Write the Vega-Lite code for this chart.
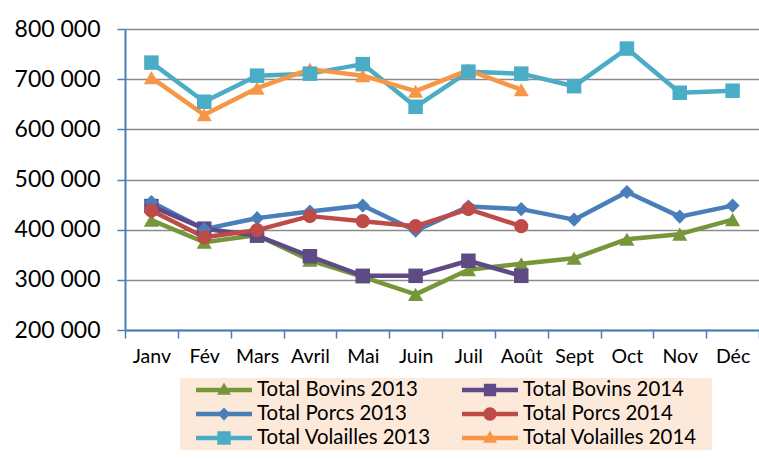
{
  "$schema": "https://vega.github.io/schema/vega-lite/v6.json",
  "width": 634,
  "height": 301,
  "autosize": {"type": "none"},
  "padding": {"left": 125, "top": 29, "right": 0, "bottom": 130},
  "background": "white",
  "config": {
    "view": {"stroke": null},
    "font": "Lato",
    "axis": {"labelFont": "Lato", "labelColor": "#000000", "title": null}
  },
  "data": {
    "values": [
      {"month": "Janv", "series": "Total Bovins 2013", "value": 419000},
      {"month": "Fév", "series": "Total Bovins 2013", "value": 375000},
      {"month": "Mars", "series": "Total Bovins 2013", "value": 389000},
      {"month": "Avril", "series": "Total Bovins 2013", "value": 339000},
      {"month": "Mai", "series": "Total Bovins 2013", "value": 306000},
      {"month": "Juin", "series": "Total Bovins 2013", "value": 271000},
      {"month": "Juil", "series": "Total Bovins 2013", "value": 320000},
      {"month": "Août", "series": "Total Bovins 2013", "value": 332000},
      {"month": "Sept", "series": "Total Bovins 2013", "value": 343000},
      {"month": "Oct", "series": "Total Bovins 2013", "value": 381000},
      {"month": "Nov", "series": "Total Bovins 2013", "value": 391000},
      {"month": "Déc", "series": "Total Bovins 2013", "value": 420000},
      {"month": "Janv", "series": "Total Porcs 2013", "value": 455000},
      {"month": "Fév", "series": "Total Porcs 2013", "value": 401000},
      {"month": "Mars", "series": "Total Porcs 2013", "value": 423000},
      {"month": "Avril", "series": "Total Porcs 2013", "value": 436000},
      {"month": "Mai", "series": "Total Porcs 2013", "value": 448000},
      {"month": "Juin", "series": "Total Porcs 2013", "value": 398000},
      {"month": "Juil", "series": "Total Porcs 2013", "value": 446000},
      {"month": "Août", "series": "Total Porcs 2013", "value": 441000},
      {"month": "Sept", "series": "Total Porcs 2013", "value": 420000},
      {"month": "Oct", "series": "Total Porcs 2013", "value": 475000},
      {"month": "Nov", "series": "Total Porcs 2013", "value": 426000},
      {"month": "Déc", "series": "Total Porcs 2013", "value": 448000},
      {"month": "Janv", "series": "Total Volailles 2013", "value": 733000},
      {"month": "Fév", "series": "Total Volailles 2013", "value": 655000},
      {"month": "Mars", "series": "Total Volailles 2013", "value": 707000},
      {"month": "Avril", "series": "Total Volailles 2013", "value": 711000},
      {"month": "Mai", "series": "Total Volailles 2013", "value": 730000},
      {"month": "Juin", "series": "Total Volailles 2013", "value": 645000},
      {"month": "Juil", "series": "Total Volailles 2013", "value": 715000},
      {"month": "Août", "series": "Total Volailles 2013", "value": 711000},
      {"month": "Sept", "series": "Total Volailles 2013", "value": 686000},
      {"month": "Oct", "series": "Total Volailles 2013", "value": 761000},
      {"month": "Nov", "series": "Total Volailles 2013", "value": 673000},
      {"month": "Déc", "series": "Total Volailles 2013", "value": 677000},
      {"month": "Janv", "series": "Total Bovins 2014", "value": 447000},
      {"month": "Fév", "series": "Total Bovins 2014", "value": 402000},
      {"month": "Mars", "series": "Total Bovins 2014", "value": 388000},
      {"month": "Avril", "series": "Total Bovins 2014", "value": 347000},
      {"month": "Mai", "series": "Total Bovins 2014", "value": 308000},
      {"month": "Juin", "series": "Total Bovins 2014", "value": 308000},
      {"month": "Juil", "series": "Total Bovins 2014", "value": 338000},
      {"month": "Août", "series": "Total Bovins 2014", "value": 308000},
      {"month": "Janv", "series": "Total Porcs 2014", "value": 438000},
      {"month": "Fév", "series": "Total Porcs 2014", "value": 385000},
      {"month": "Mars", "series": "Total Porcs 2014", "value": 399000},
      {"month": "Avril", "series": "Total Porcs 2014", "value": 427000},
      {"month": "Mai", "series": "Total Porcs 2014", "value": 417000},
      {"month": "Juin", "series": "Total Porcs 2014", "value": 407000},
      {"month": "Juil", "series": "Total Porcs 2014", "value": 441000},
      {"month": "Août", "series": "Total Porcs 2014", "value": 407000},
      {"month": "Janv", "series": "Total Volailles 2014", "value": 703000},
      {"month": "Fév", "series": "Total Volailles 2014", "value": 629000},
      {"month": "Mars", "series": "Total Volailles 2014", "value": 682000},
      {"month": "Avril", "series": "Total Volailles 2014", "value": 720000},
      {"month": "Mai", "series": "Total Volailles 2014", "value": 707000},
      {"month": "Juin", "series": "Total Volailles 2014", "value": 676000},
      {"month": "Juil", "series": "Total Volailles 2014", "value": 718000},
      {"month": "Août", "series": "Total Volailles 2014", "value": 679000}
    ]
  },
  "encoding": {
    "x": {
      "field": "month",
      "type": "ordinal",
      "sort": ["Janv", "Fév", "Mars", "Avril", "Mai", "Juin", "Juil", "Août", "Sept", "Oct", "Nov", "Déc"],
      "scale": {"type": "band", "paddingInner": 0, "paddingOuter": 0},
      "axis": {
        "labelAngle": 0,
        "labelFontSize": 19.5,
        "labelPadding": 9,
        "domainColor": "#4A7EBB",
        "domainWidth": 2,
        "tickColor": "#4A7EBB",
        "tickWidth": 1.5,
        "tickSize": 8,
        "tickBand": "extent",
        "grid": false
      }
    },
    "y": {
      "field": "value",
      "type": "quantitative",
      "scale": {"domain": [200000, 800000], "nice": false, "zero": false},
      "axis": {
        "values": [200000, 300000, 400000, 500000, 600000, 700000, 800000],
        "labelExpr": "replace(format(datum.value, ','), ',', ' ')",
        "labelFontSize": 23,
        "labelPadding": 17,
        "domainColor": "#4A7EBB",
        "domainWidth": 2,
        "tickColor": "#4A7EBB",
        "tickWidth": 1.5,
        "tickSize": 8,
        "grid": true,
        "gridColor": "#8A8A8A",
        "gridWidth": 1.3
      }
    }
  },
  "layer": [
    {
      "mark": {"type": "point", "filled": true, "size": 1, "opacity": 1},
      "encoding": {
        "color": {
          "field": "series",
          "type": "nominal",
          "scale": {
            "domain": ["Total Bovins 2013", "Total Bovins 2014", "Total Porcs 2013", "Total Porcs 2014", "Total Volailles 2013", "Total Volailles 2014"],
            "range": ["#77963C", "#5E4A85", "#4A7EBB", "#BE4B48", "#4BACC6", "#F79646"]
          },
          "legend": {
            "title": null,
            "orient": "none",
            "legendX": 55,
            "legendY": 349,
            "columns": 2,
            "direction": "horizontal",
            "fillColor": "#FCE9DA",
            "padding": 0,
            "rowPadding": 0,
            "columnPadding": 0,
            "clipHeight": 24,
            "labelFont": "Lato",
            "labelFontSize": 20.4,
            "labelColor": "#000000",
            "labelOffset": 5,
            "labelLimit": 300,
            "symbolOffset": 16,
            "symbolSize": 3136,
            "symbolOpacity": 1,
            "symbolStrokeWidth": 0,
            "labelExpr": "datum.label + '\u2800'"
          }
        },
        "shape": {
          "field": "series",
          "type": "nominal",
          "scale": {
            "domain": ["Total Bovins 2013", "Total Bovins 2014", "Total Porcs 2013", "Total Porcs 2014", "Total Volailles 2013", "Total Volailles 2014"],
            "range": [
              "M-1,-0.08H1V0.08H-1ZM0,-0.27L0.25,0.17H-0.25Z",
              "M-1,-0.08H1V0.08H-1ZM-0.22,-0.22H0.22V0.22H-0.22Z",
              "M-1,-0.08H1V0.08H-1ZM0,-0.23L0.23,0L0,0.23L-0.23,0Z",
              "M-1,-0.08H1V0.08H-1ZM-0.24,0A0.24,0.24,0,1,1,0.24,0A0.24,0.24,0,1,1,-0.24,0Z",
              "M-1,-0.08H1V0.08H-1ZM-0.24,-0.24H0.24V0.24H-0.24Z",
              "M-1,-0.08H1V0.08H-1ZM0,-0.27L0.25,0.17H-0.25Z"
            ]
          }
        }
      }
    },
    {
      "mark": {"type": "line", "strokeWidth": 4.5, "strokeJoin": "round"},
      "encoding": {
        "color": {"field": "series", "type": "nominal", "legend": null},
        "detail": {"field": "series"}
      }
    },
    {
      "transform": [{"filter": {"field": "series", "oneOf": ["Total Bovins 2013", "Total Volailles 2014"]}}],
      "mark": {"type": "point", "filled": true, "opacity": 1, "shape": "triangle-up", "size": 230},
      "encoding": {"color": {"field": "series", "type": "nominal", "legend": null}}
    },
    {
      "transform": [{"filter": {"field": "series", "oneOf": ["Total Bovins 2014", "Total Volailles 2013"]}}],
      "mark": {"type": "point", "filled": true, "opacity": 1, "shape": "square", "size": 210},
      "encoding": {"color": {"field": "series", "type": "nominal", "legend": null}}
    },
    {
      "transform": [{"filter": {"field": "series", "equal": "Total Porcs 2013"}}],
      "mark": {"type": "point", "filled": true, "opacity": 1, "shape": "diamond", "size": 200},
      "encoding": {"color": {"field": "series", "type": "nominal", "legend": null}}
    },
    {
      "transform": [{"filter": {"field": "series", "equal": "Total Porcs 2014"}}],
      "mark": {"type": "point", "filled": true, "opacity": 1, "shape": "circle", "size": 200},
      "encoding": {"color": {"field": "series", "type": "nominal", "legend": null}}
    }
  ]
}
